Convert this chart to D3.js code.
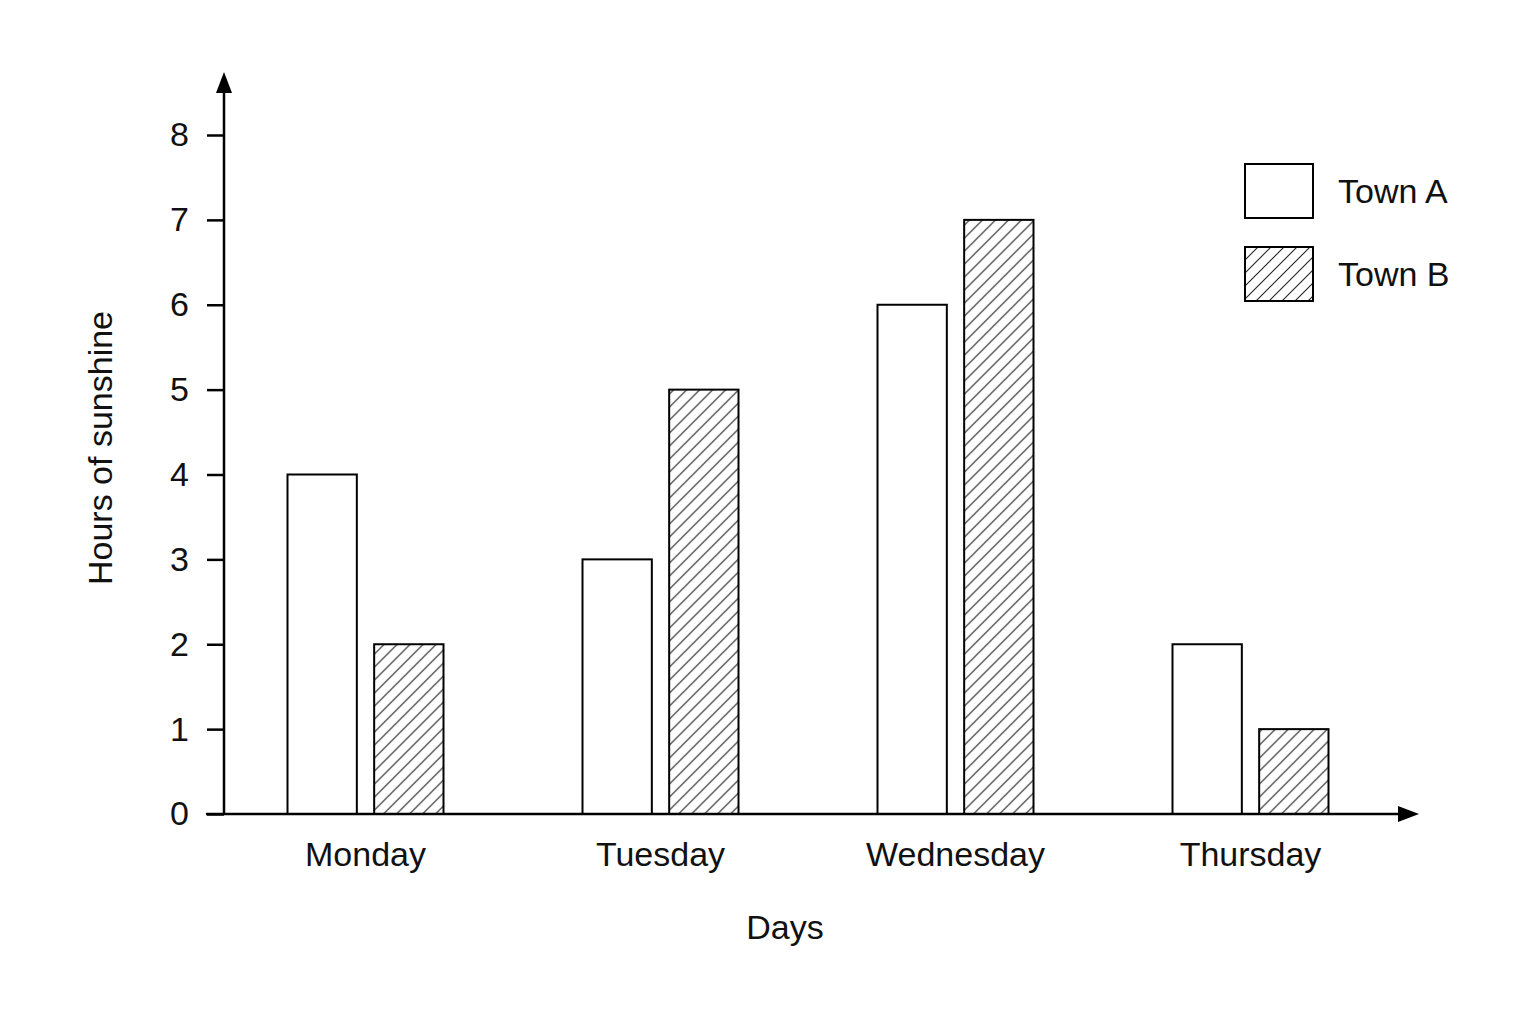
<!DOCTYPE html>
<html lang="en">
<head>
<meta charset="utf-8">
<title>Hours of sunshine</title>
<script src="https://cdn.jsdelivr.net/npm/d3@7"></script>
<style>
  body { margin: 0; background: #fff; }
  text { font-family: "Liberation Sans", Arial, sans-serif; fill: #111; }
</style>
</head>
<body>
<script>
// data
var days = ["Monday", "Tuesday", "Wednesday", "Thursday"];
var towns = ["Town A", "Town B"];
var townA = [4, 3, 6, 2];
var townB = [2, 5, 7, 1];
var yTicks = [0, 1, 2, 3, 4, 5, 6, 7, 8];

var svg = d3.select("body").append("svg")
  .attr("width", 1536)
  .attr("height", 1024);

var defs = svg.append("defs");

// diagonal hatch for Town B, "/" lines about 13px apart
var hs = 13;
defs.append("pattern")
  .attr("id", "hatch")
  .attr("patternUnits", "userSpaceOnUse")
  .attr("width", hs)
  .attr("height", hs)
  .append("path")
    .attr("d", "M0," + hs + " L" + hs + ",0 M-3,3 L3,-3 M" + (hs - 3) + "," + (hs + 3) + " L" + (hs + 3) + "," + (hs - 3))
    .attr("stroke", "#222")
    .attr("stroke-width", 1.1)
    .attr("fill", "none");

var x0 = 224, yBase = 814;

var y = d3.scaleLinear().domain([0, 8]).range([yBase, 135]);

// group centres
var xDay = d3.scalePoint().domain(days).range([218, 1398]).padding(0.5);
// offset of each town inside a group
var xTown = d3.scaleBand().domain(towns).range([-78, 78]).paddingInner(0.2);

var rows = days.map(function (d, i) {
  return { day: d, values: [townA[i], townB[i]] };
});

// bars
var groups = svg.selectAll("g.day")
  .data(rows)
  .enter().append("g")
  .attr("class", "day")
  .attr("transform", function (d) { return "translate(" + xDay(d.day) + ",0)"; });

groups.selectAll("rect")
  .data(function (d) {
    return d.values.map(function (v, j) { return { town: towns[j], value: v }; });
  })
  .enter().append("rect")
  .attr("x", function (d) { return xTown(d.town); })
  .attr("y", function (d) { return y(d.value); })
  .attr("width", xTown.bandwidth())
  .attr("height", function (d) { return yBase - y(d.value); })
  .attr("fill", function (d) { return d.town === "Town A" ? "#fff" : "url(#hatch)"; })
  .attr("stroke", "#000")
  .attr("stroke-width", 2);

// y axis
var yAxis = d3.axisLeft(y)
  .tickValues(yTicks)
  .tickSize(17)
  .tickPadding(18)
  .tickFormat(d3.format("d"));

var yg = svg.append("g")
  .attr("transform", "translate(" + x0 + ",0)")
  .call(yAxis);
yg.select(".domain").remove();
yg.selectAll(".tick line").attr("stroke", "#000").attr("stroke-width", 2.5);
yg.selectAll(".tick text")
  .style("font-family", "'Liberation Sans', Arial, sans-serif")
  .style("font-size", "34px")
  .attr("fill", "#111");

// axis lines
svg.append("line")
  .attr("x1", x0).attr("y1", yBase + 1)
  .attr("x2", x0).attr("y2", 88)
  .attr("stroke", "#000").attr("stroke-width", 2.5);

svg.append("line")
  .attr("x1", 206).attr("y1", yBase)
  .attr("x2", 1404).attr("y2", yBase)
  .attr("stroke", "#000").attr("stroke-width", 2.5);

// arrow heads
svg.append("path")
  .attr("d", "M" + x0 + ",72 L" + (x0 + 8) + ",93 L" + (x0 - 8) + ",93 Z")
  .attr("fill", "#000");
svg.append("path")
  .attr("d", "M1419," + yBase + " L1398," + (yBase - 8) + " L1398," + (yBase + 8) + " Z")
  .attr("fill", "#000");

// category labels
svg.selectAll("text.cat")
  .data(days)
  .enter().append("text")
  .attr("class", "cat")
  .attr("x", function (d) { return xDay(d); })
  .attr("y", 866)
  .attr("text-anchor", "middle")
  .style("font-size", "34px")
  .text(function (d) { return d; });

// axis titles
svg.append("text")
  .attr("x", 785).attr("y", 939)
  .attr("text-anchor", "middle")
  .style("font-size", "34px")
  .text("Days");

svg.append("text")
  .attr("transform", "translate(112,448) rotate(-90)")
  .attr("text-anchor", "middle")
  .style("font-size", "34px")
  .text("Hours of sunshine");

// legend
var legend = svg.selectAll("g.legend")
  .data(towns)
  .enter().append("g")
  .attr("class", "legend")
  .attr("transform", function (d, i) { return "translate(1245," + (164 + i * 83) + ")"; });

legend.append("rect")
  .attr("width", 68).attr("height", 54)
  .attr("fill", function (d) { return d === "Town A" ? "#fff" : "url(#hatch)"; })
  .attr("stroke", "#000")
  .attr("stroke-width", 2);

legend.append("text")
  .attr("x", 93).attr("y", 39)
  .style("font-size", "34px")
  .text(function (d) { return d; });
</script>
</body>
</html>
